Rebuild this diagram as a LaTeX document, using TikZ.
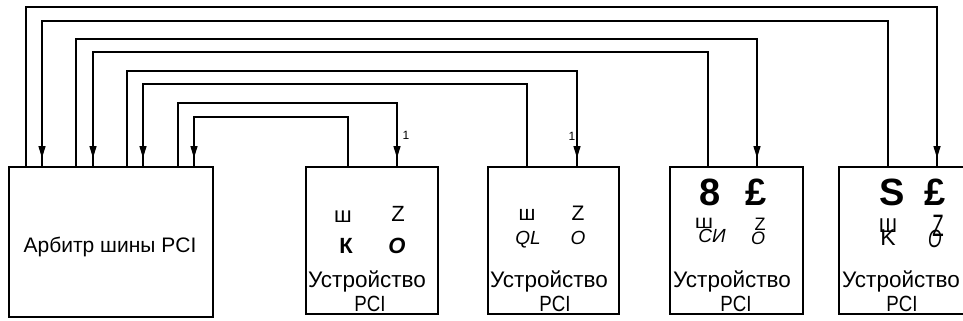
\documentclass[tikz,border=0pt]{standalone}
\usepackage{fontspec}
\setmainfont{Liberation Sans}
\usetikzlibrary{arrows.meta,decorations.markings}
\newcommand\fsz[1]{\fontsize{#1}{#1}\selectfont}
\begin{document}
\begin{tikzpicture}[x=1pt,y=-1pt,
  box/.style={draw,line width=1.5pt,minimum height=147pt,inner sep=0pt,anchor=north west},
  wire/.style={line width=1.5pt},
  tipend/.style={postaction={decorate},decoration={markings,
     mark=at position -8pt with {\arrow{Triangle[length=12pt,width=7pt]}}}},
  txt/.style={inner sep=0pt,anchor=base},
  lbl/.style={txt,font=\fsz{22.5}},
  pci/.style={txt,font=\fsz{22},xscale=0.85},
  tiny/.style={txt,font=\fsz{12}}]
\clip (0,0) rectangle (963,321);
% boxes
\node[box,minimum width=204pt,minimum height=150pt] (arb) at (8,166) {};
\node[box,minimum width=132pt] (d1) at (305,166) {};
\node[box,minimum width=131pt] (d2) at (487,166) {};
\node[box,minimum width=133pt] (d3) at (669,166) {};
\node[box,minimum width=132pt] (d4) at (838,166) {};
% wires
\draw[wire,tipend] (arb.north -| 26,0) |- (937,7) -- (d4.north -| 937,0);
\draw[wire,tipend] (d4.north -| 888,0) |- (42,21) -- (arb.north -| 42,0);
\draw[wire,tipend] (arb.north -| 76,0) |- (757,39) -- (d3.north -| 757,0);
\draw[wire,tipend] (d3.north -| 708,0) |- (93,52) -- (arb.north -| 93,0);
\draw[wire,tipend] (arb.north -| 127,0) |- (577,71) -- (d2.north -| 577,0);
\draw[wire,tipend] (d2.north -| 527,0) |- (143,84) -- (arb.north -| 143,0);
\draw[wire,tipend] (arb.north -| 178,0) |- (397,103) -- (d1.north -| 397,0);
\draw[wire,tipend] (d1.north -| 348,0) |- (194,117) -- (arb.north -| 194,0);
% small labels
\node[tiny] (n1) at (406,139) {1};
\node[tiny] (n2) at (572,140) {1};
% arbiter text
\node[txt,font=\fsz{21}] (ta) at (110,252) {Арбитр шины PCI};
% device 1
\node[txt,font=\fsz{22}] (a1) at (343,222) {ш};
\node[txt,font=\fsz{22}] (b1) at (398,221) {Z};
\node[txt,font=\fsz{22}\bfseries] (c1) at (346,253) {К};
\node[txt,font=\fsz{22}\bfseries\itshape] (e1) at (397,253) {О};
\node[lbl] (u1) at (367,287) {Устройство};
\node[pci] (p1) at (370,311) {PCI};
% device 2
\node[txt,font=\fsz{21}] (a2) at (527,220) {ш};
\node[txt,font=\fsz{21}] (b2) at (578,220) {Z};
\node[txt,font=\fsz{19}\itshape] (c2) at (528,244) {QL};
\node[txt,font=\fsz{19}\itshape] (e2) at (578,244) {O};
\node[lbl] (u2) at (549,287) {Устройство};
\node[pci] (p2) at (555,311) {PCI};
% device 3
\node[txt,font=\fsz{38}\bfseries] (a3) at (710,205) {8};
\node[txt,font=\fsz{38}\bfseries] (b3) at (756,205) {£};
\node[txt,font=\fsz{20},yscale=0.75] (c3) at (704,228) {Ш};
\node[txt,font=\fsz{19}\itshape] (e3) at (712,242) {СИ};
\node[txt,font=\fsz{18}] (f3) at (760,230) {Z};
\node[txt,font=\fsz{18}\itshape] (g3) at (758,244) {O};
\node[lbl] (u3) at (732,287) {Устройство};
\node[pci] (p3) at (736,311) {PCI};
% device 4
\node[txt,font=\fsz{38}\bfseries] (a4) at (892,205) {S};
\node[txt,font=\fsz{38}\bfseries] (b4) at (935,205) {£};
\node[txt,font=\fsz{20}] (c4) at (888,232) {Ш};
\node[txt,font=\fsz{23}] (e4) at (888,245) {K};
\node[txt,font=\fsz{31},xscale=0.6] (f4) at (938,236) {Z};
\node[txt,font=\fsz{25}\itshape,xscale=0.7] (g4) at (935,247) {O};
\node[lbl] (u4) at (901,287) {Устройство};
\node[pci] (p4) at (902,311) {PCI};
\end{tikzpicture}
\end{document}
